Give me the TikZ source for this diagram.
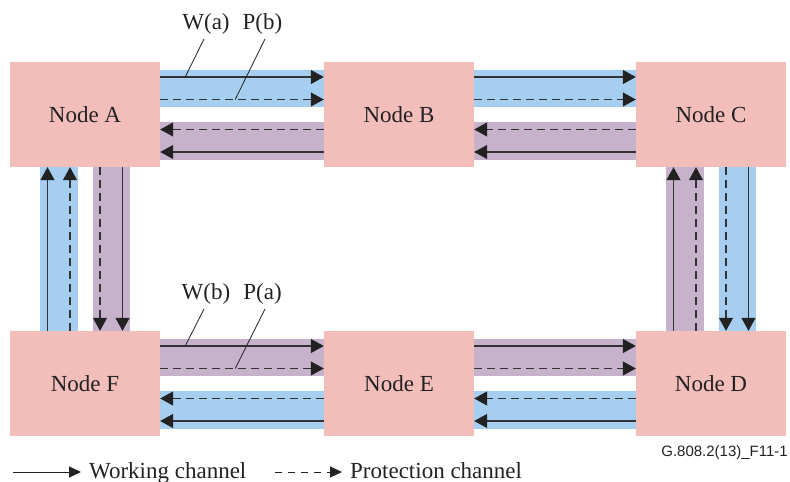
\documentclass[tikz,border=0pt]{standalone}
\usepackage{fontspec}
\setmainfont{Liberation Serif}
\newfontfamily\idfont{Liberation Sans}
\usetikzlibrary{arrows.meta,calc}
\definecolor{nodepink}{RGB}{243,189,185}
\definecolor{chblue}{RGB}{166,206,240}
\definecolor{chpurple}{RGB}{199,178,204}
\definecolor{linegray}{RGB}{50,50,50}
\definecolor{tipdark}{RGB}{34,34,34}
\definecolor{textdark}{RGB}{34,34,34}
\tikzset{
  nodebox/.style={fill=nodepink, minimum width=150pt, minimum height=105pt, inner sep=0pt,
    font=\fontsize{23}{23}\selectfont, text=textdark},
  blueband/.style={fill=chblue},
  purpband/.style={fill=chpurple},
  work/.style={draw=linegray, line width=1.2pt, -{Triangle[length=13pt,width=14pt,color=tipdark]}},
  prot/.style={work, dash pattern=on 8pt off 5pt},
  legwork/.style={draw=tipdark, line width=1pt, -{Triangle[length=12pt,width=11pt,color=tipdark]}},
  legprot/.style={legwork, dash pattern=on 7pt off 6pt},
  leader/.style={draw=tipdark, line width=0.8pt},
  lbl/.style={font=\fontsize{23}{23}\selectfont, text=textdark, inner sep=0pt},
}
\newcommand\hpair[4]{%
  \fill[#3] ($(#1.east)+(0,-45)$) rectangle ($(#2.west)+(0,-7.5)$);
  \draw[work] ($(#1.east)+(0,-37.5)$) -- ($(#2.west)+(0,-37.5)$);
  \draw[prot] ($(#1.east)+(0,-15)$) -- ($(#2.west)+(0,-15)$);
  \fill[#4] ($(#1.east)+(0,7.5)$) rectangle ($(#2.west)+(0,45)$);
  \draw[prot] ($(#2.west)+(0,15)$) -- ($(#1.east)+(0,15)$);
  \draw[work] ($(#2.west)+(0,37.5)$) -- ($(#1.east)+(0,37.5)$);
}
\newcommand\vpair[4]{%
  \fill[#3] ($(#1.south)+(-45,0)$) rectangle ($(#2.north)+(-7.5,0)$);
  \draw[work] ($(#2.north)+(-37.5,0)$) -- ($(#1.south)+(-37.5,0)$);
  \draw[prot] ($(#2.north)+(-15,0)$) -- ($(#1.south)+(-15,0)$);
  \fill[#4] ($(#1.south)+(7.5,0)$) rectangle ($(#2.north)+(45,0)$);
  \draw[prot] ($(#1.south)+(15,0)$) -- ($(#2.north)+(15,0)$);
  \draw[work] ($(#1.south)+(37.5,0)$) -- ($(#2.north)+(37.5,0)$);
}
\begin{document}
\begin{tikzpicture}[x=1pt,y=-1pt]
\useasboundingbox (0,0) rectangle (790,482);
% nodes
\node[nodebox] (A) at (85,114.5) {Node A};
\node[nodebox] (B) at (399,114.5) {Node B};
\node[nodebox] (C) at (711,114.5) {Node C};
\node[nodebox] (F) at (85,383.5) {Node F};
\node[nodebox] (E) at (399,383.5) {Node E};
\node[nodebox] (D) at (711,383.5) {Node D};
% channels
\hpair{A}{B}{blueband}{purpband}
\hpair{B}{C}{blueband}{purpband}
\hpair{F}{E}{purpband}{blueband}
\hpair{E}{D}{purpband}{blueband}
\vpair{A}{F}{blueband}{purpband}
\vpair{C}{D}{purpband}{blueband}
% labels top
\node[lbl] (wa) at (206,24) {W(a)};
\node[lbl] (pb) at (262.5,24) {P(b)};
\coordinate (wa-top) at (204,39);
\coordinate (pb-top) at (265,39);
\coordinate (wa-end) at ($(A.east)+(25,-37.5)$);
\coordinate (pb-end) at ($(A.east)+(75,-15)$);
\draw[leader] (wa-top) -- (wa-end);
\draw[leader] (pb-top) -- (pb-end);
% labels bottom
\node[lbl] (wb) at (206,294) {W(b)};
\node[lbl] (pa) at (262.5,294) {P(a)};
\coordinate (wb-top) at (204,309);
\coordinate (pa-top) at (265,309);
\coordinate (wb-end) at ($(F.east)+(25,-37.5)$);
\coordinate (pa-end) at ($(F.east)+(75,-15)$);
\draw[leader] (wb-top) -- (wb-end);
\draw[leader] (pa-top) -- (pa-end);
% legend
\coordinate (l1a) at (13,472);
\coordinate (l1b) at (81,472);
\coordinate (l2a) at (275,472);
\coordinate (l2b) at (342,472);
\draw[legwork] (l1a) -- (l1b);
\node[lbl, anchor=base west] (lw) at (89,478) {Working channel};
\draw[legprot] (l2a) -- (l2b);
\node[lbl, anchor=base west] (lp) at (350,478) {Protection channel};
\node[inner sep=0pt, anchor=east, font=\idfont\fontsize{15}{15}\selectfont, text=textdark] (fid) at (788,453) {G.808.2(13)\_F11-1};
\end{tikzpicture}
\end{document}
